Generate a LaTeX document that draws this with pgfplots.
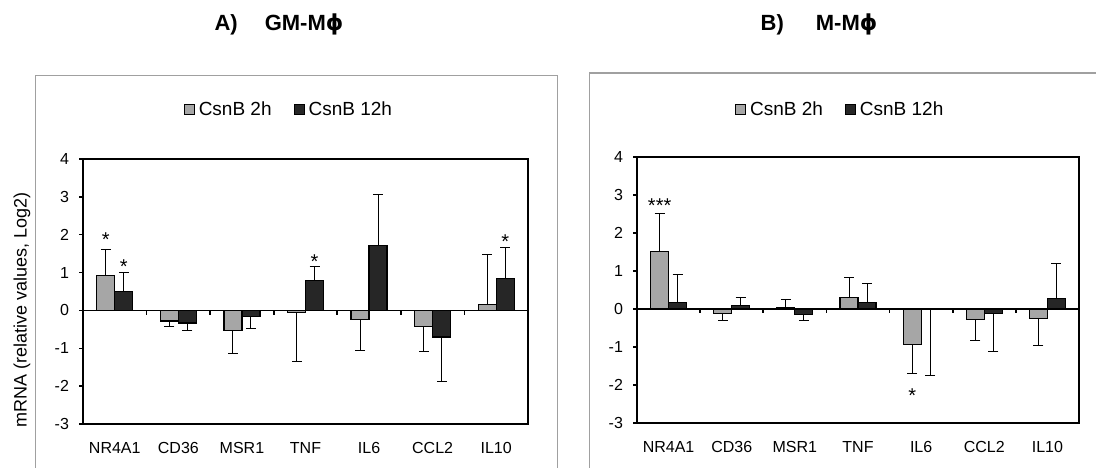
\documentclass[border=0pt]{standalone}
\usepackage{pgfplots}
\pgfplotsset{compat=1.18}
\usepackage{pgfplotstable}
\usepackage{fontspec}
\setmainfont{Liberation Sans}
\newfontfamily\dvsans{DejaVu Sans}

\definecolor{lightbar}{HTML}{A6A6A6}
\definecolor{darkbar}{HTML}{262626}
\definecolor{boxgray}{HTML}{A0A0A0}

% x: category index; a = CsnB 2h, b = CsnB 12h; p/m = error up/down
\pgfplotstableread{
x  a      ap    am    b      bp    bm
0  0.93   0.69  0     0.49   0.50  0
1  -0.28  0     0.15  -0.33  0     0.19
2  -0.52  0     0.63  -0.17  0     0.32
3  -0.06  0     1.30  0.79   0.38  0
4  -0.24  0     0.83  1.71   1.35  0
5  -0.42  0     0.66  -0.70  0     1.19
6  0.16   1.33  0     0.84   0.83  0
}\gmdata

\pgfplotstableread{
x  a      ap    am    b      bp    bm
0  1.52   1.00  0     0.18   0.73  0
1  -0.11  0     0.20  0.09   0.22  0
2  0.03   0.21  0     -0.15  0     0.16
3  0.31   0.53  0     0.17   0.49  0
4  -0.94  0     0.76  -0.01  0     1.73
5  -0.27  0     0.56  -0.12  0     0.99
6  -0.24  0     0.72  0.28   0.92  0
}\mdata

\pgfplotsset{
  genebars/.style={
    scale only axis,
    ybar=0pt, bar width=9pt,
    xmin=-0.5, xmax=6.5, ymin=-3, ymax=4,
    xtick={0,...,6},
    xticklabels={NR4A1,CD36,MSR1,TNF,IL6,CCL2,IL10},
    ytick={-3,...,4},
    x tick style={draw=none},
    y tick style={black, line width=0.7pt},
    tick align=outside, major tick length=2pt,
    ytick pos=left,
    axis line style={black, line width=0.9pt},
    tick label style={font=\fontsize{8}{10}\selectfont},
    xticklabel style={yshift=-3.5pt},
    yticklabel style={xshift=-1.5pt},
    /pgf/number format/assume math mode=true,
    legend columns=2,
    legend style={draw=none, fill=none, anchor=center,
      font=\fontsize{9.5}{11}\selectfont,
      /tikz/every even column/.append style={column sep=9pt}},
    legend image code/.code={\draw[#1, line width=0.5pt] (0pt,-2.5pt) rectangle (5pt,2.5pt);},
    every axis plot/.append style={draw=black, line width=0.6pt},
    error bars/y dir=both, error bars/y explicit,
    error bars/error bar style={black, line width=0.5pt},
    error bars/error mark options={rotate=90, black, line width=0.5pt, mark size=2.5pt},
  },
}
\tikzset{sigstar/.style={anchor=base, inner sep=0pt, font=\fontsize{10}{12}\selectfont}}

\begin{document}
\begin{tikzpicture}
% chart area frames
\draw[boxgray, line width=0.5pt] (17.5pt,-5pt) -- (17.5pt,196pt) -- (278.5pt,196pt) -- (278.5pt,-5pt);
\draw[boxgray, line width=0.5pt] (294.5pt,-5pt) -- (294.5pt,197pt) -- (560pt,197pt);

\node[font=\bfseries\fontsize{11}{13}\selectfont, anchor=base] at (139.5pt,218pt) {A)\hspace{13.5pt}GM-M{\dvsans\bfseries ϕ}};
\node[font=\bfseries\fontsize{11}{13}\selectfont, anchor=base] at (409.5pt,218pt) {B)\hspace{16pt}M-M{\dvsans\bfseries ϕ}};
\node[rotate=90, font=\fontsize{9}{11}\selectfont] at (11pt,78.5pt) {mRNA (relative values, Log2)};

\begin{axis}[genebars, at={(41.5pt,21.5pt)}, anchor=south west,
  width=222.5pt, height=132.5pt,
  legend style={at={(0.465,1.185)}}]
\addplot[fill=lightbar] table[x=x, y=a, y error plus=ap, y error minus=am] {\gmdata};
\addplot[fill=darkbar] table[x=x, y=b, y error plus=bp, y error minus=bm] {\gmdata};
\legend{CsnB 2h, CsnB 12h}
\draw[black, line width=0.9pt] (axis cs:-0.5,0) -- (axis cs:6.5,0);
\pgfplotsinvokeforeach{0.5,1.5,2.5,3.5,4.5,5.5}{\draw[black, line width=0.9pt] (axis cs:#1,0) -- ++(0pt,-2.2pt);}
\node[sigstar] at (axis cs:-0.1415,1.68) {*};
\node[sigstar] at (axis cs:0.1415,0.97) {*};
\node[sigstar] at (axis cs:3.1415,1.12) {*};
\node[sigstar] at (axis cs:6.1415,1.63) {*};
\end{axis}

\begin{axis}[genebars, at={(318.5pt,22pt)}, anchor=south west,
  width=221pt, height=133pt,
  legend style={at={(0.462,1.177)}}]
\addplot[fill=lightbar] table[x=x, y=a, y error plus=ap, y error minus=am] {\mdata};
\addplot[fill=darkbar] table[x=x, y=b, y error plus=bp, y error minus=bm] {\mdata};
\legend{CsnB 2h, CsnB 12h}
\draw[black, line width=0.9pt] (axis cs:-0.5,0) -- (axis cs:6.5,0);
\pgfplotsinvokeforeach{0.5,1.5,2.5,3.5,4.5,5.5}{\draw[black, line width=0.9pt] (axis cs:#1,0) -- ++(0pt,-2.2pt);}
\node[sigstar] at (axis cs:-0.1415,2.54) {***};
\node[sigstar] at (axis cs:3.8585,-2.46) {*};
\end{axis}

\pgfresetboundingbox
\path[use as bounding box] (0pt,0pt) rectangle (548pt,233.5pt);
\end{tikzpicture}
\end{document}
